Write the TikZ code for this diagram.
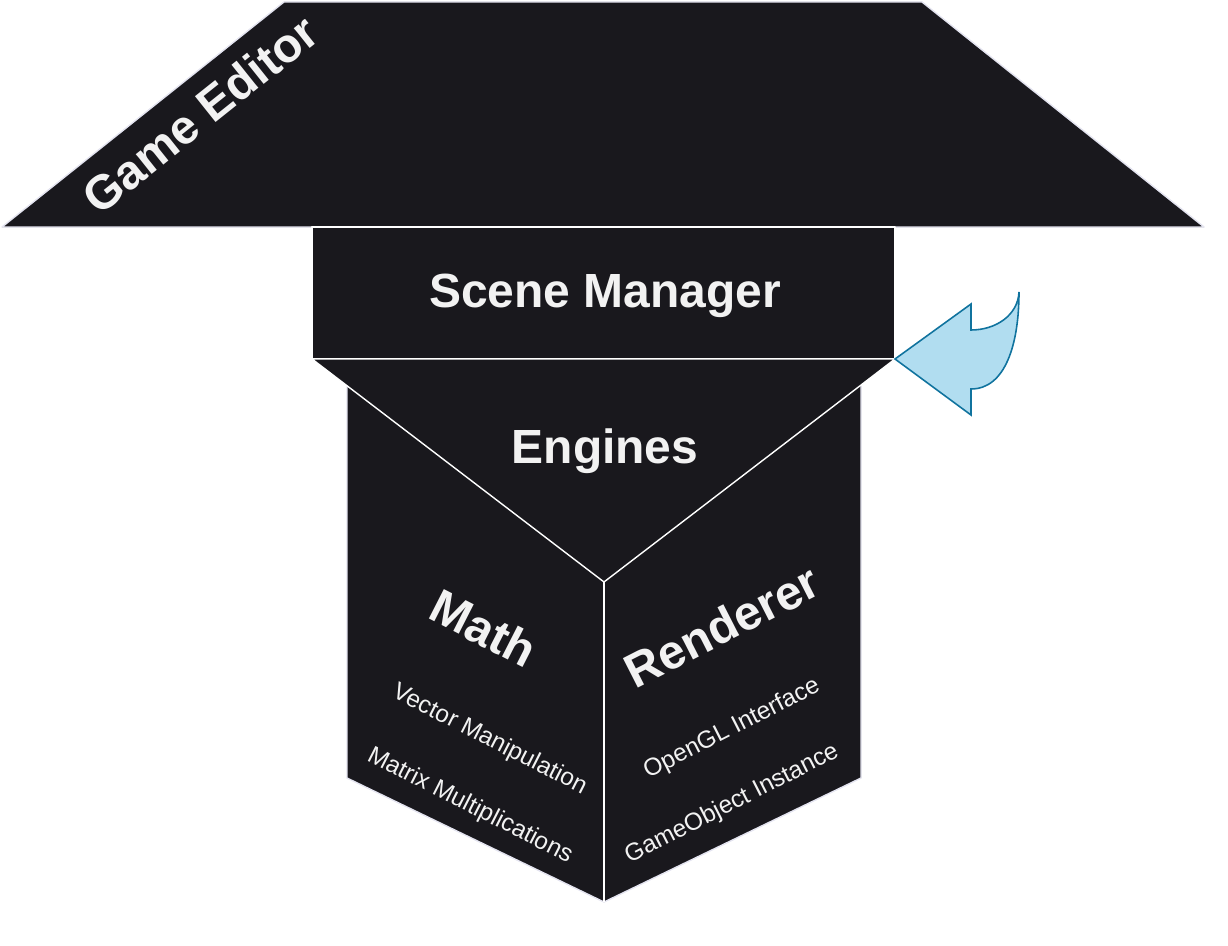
\documentclass[tikz,border=0pt]{standalone}
\usepackage{fontspec}
\setmainfont{Liberation Sans}
\usetikzlibrary{positioning}

\definecolor{panel}{HTML}{19181D}
\definecolor{rim}{HTML}{E4E4F0}
\definecolor{lbl}{HTML}{F2F2F2}
\definecolor{flowfill}{HTML}{B1DDF0}
\definecolor{flowline}{HTML}{10739E}

\begin{document}
\begin{tikzpicture}[x=0.02cm, y=-0.02cm,
  %%── Styles ───────────────────────────────────────────────────────────────
  block/.style={fill=panel, draw=rim, line width=0.8pt, line join=round},
  seam/.style={draw=white, line width=0.8pt},
  title/.style={text=lbl, inner sep=0pt,
    font=\fontsize{27.3}{32}\selectfont\bfseries},
  item/.style={text=lbl, inner sep=0pt,
    font=\fontsize{13.9}{16}\selectfont},
  flow/.style={fill=flowfill, draw=flowline, line width=0.9pt, line join=miter},
]
\useasboundingbox (0,0) rectangle (1228,946);

%%── Game Editor (top trapezoid) ─────────────────────────────────────────
\draw[block] (2,227) -- (284,2) -- (922,2) -- (1204,227) -- cycle;
\node[title, rotate=38.6] (editor) at (200,114) {Game Editor};

%%── Scene Manager ───────────────────────────────────────────────────────
\draw[block, draw=white] (312,227) rectangle (895,359);
\node[title] (scene) at (605,296) {Scene Manager};

%%── Engines body (two side panels) ──────────────────────────────────────
\draw[block] (347,386) -- (347,778) -- (604,902) -- (861,778) -- (861,386);
\draw[seam] (604,582) -- (604,902);

%% Engines lid (triangle)
\draw[block, draw=white] (312,359) -- (895,359) -- (604,582) -- cycle;
\node[title] (engines) at (605,451) {Engines};

%%── Math panel (left) ───────────────────────────────────────────────────
\node[title, rotate=-27] (math)   at (484,628) {Math};
\node[item,  rotate=-27] (vector) at (490,740) {Vector Manipulation};
\node[item,  rotate=-27] (matrix) at (470,806) {Matrix Multiplications};

%%── Renderer panel (right) ──────────────────────────────────────────────
\node[title, rotate=27] (renderer) at (722,626) {Renderer};
\node[item,  rotate=27] (opengl)   at (732,729) {OpenGL Interface};
\node[item,  rotate=27] (gameobj)  at (732,804) {GameObject Instance};

%%── Curved arrow into the Engines corner ────────────────────────────────
\draw[flow] (895,359) -- (971,304) -- (971,330)
  .. controls (996,330) and (1018,315) .. (1019,292)
  .. controls (1019,345) and (1005,389) .. (971,389)
  -- (971,415) -- cycle;

\end{tikzpicture}
\end{document}
